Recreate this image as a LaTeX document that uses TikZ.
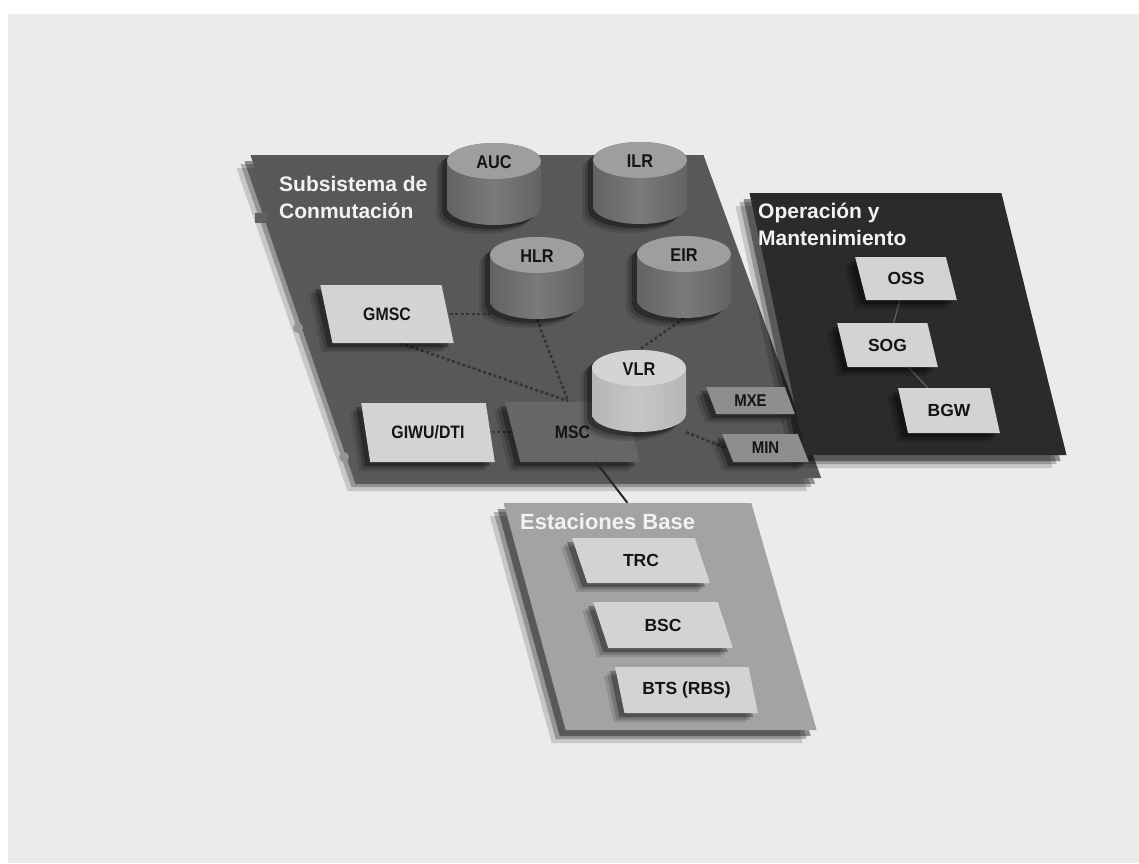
\documentclass[tikz,border=0pt]{standalone}
\usepackage{fontspec}
\setmainfont{Liberation Sans}
\newfontfamily\condf{Liberation Sans}[FakeStretch=0.88]
\usetikzlibrary{shapes.geometric,calc}
\definecolor{bgc}{HTML}{EBEBEB}
\definecolor{platc}{HTML}{585858}
\definecolor{omc}{HTML}{2B2B2B}
\definecolor{basec}{HTML}{A3A3A3}
\definecolor{boxc}{HTML}{D3D3D3}
\definecolor{mscc}{HTML}{666666}
\definecolor{smallc}{HTML}{8E8E8E}
\definecolor{cyltop}{HTML}{9E9E9E}
\definecolor{cylsideA}{HTML}{636363}
\definecolor{cylsideB}{HTML}{7A7A7A}
\definecolor{vlrtop}{HTML}{D4D4D4}
\definecolor{vlrsideA}{HTML}{B6B6B6}
\definecolor{vlrsideB}{HTML}{C6C6C6}
\definecolor{connc}{HTML}{353535}
\definecolor{titlec}{HTML}{F2F2F2}
\definecolor{txtc}{HTML}{141414}
\newcommand\cylfont{\condf\bfseries\fontsize{18.5}{20}\selectfont}
\newcommand\pboxfont{\condf\bfseries\fontsize{18}{20}\selectfont}
\newcommand\smallboxfont{\condf\bfseries\fontsize{17}{20}\selectfont}
\newcommand\boxfont{\bfseries\fontsize{17.5}{20}\selectfont}
\newcommand\titlefont{\bfseries\fontsize{21}{26.5}\selectfont}
\newcommand\omfont{\bfseries\fontsize{21}{27}\selectfont}
\newcommand\dbcyl[6]{%
  \path[shadowed,#6] (#2-47,#3) arc[start angle=180,end angle=360,x radius=47,y radius=18]
     -- (#2+47,#3+46) arc[start angle=0,end angle=180,x radius=47,y radius=18] -- cycle;
  \fill[#5] (#2,#3) ellipse[x radius=47,y radius=18];
  \node[inner sep=0pt, minimum width=94pt, minimum height=82pt] (#1) at (#2,#3+23) {};
  \node[font=\cylfont, text=txtc, inner sep=0pt] (#1-l) at (#2,#3+1) {#4};
}
\tikzset{
  shadowed/.style={
    preaction={fill=black,opacity=0.12,transform canvas={xshift=-11pt,yshift=-9pt}},
    preaction={fill=black,opacity=0.18,transform canvas={xshift=-8pt,yshift=-6.5pt}},
    preaction={fill=black,opacity=0.3,transform canvas={xshift=-5pt,yshift=-4pt}}},
  bigshadow/.style={
    preaction={fill=black,opacity=0.15,transform canvas={xshift=-14pt,yshift=-13pt}},
    preaction={fill=black,opacity=0.25,transform canvas={xshift=-10pt,yshift=-9pt}},
    preaction={fill=black,opacity=0.4,transform canvas={xshift=-6pt,yshift=-6pt}}},
  pbox/.style={trapezium, trapezium left angle=109, trapezium right angle=71,
    trapezium stretches=true, inner sep=2pt, draw=none},
  lightbox/.style={pbox, shadowed, fill=boxc, text=txtc, font=\pboxfont},
  basebox/.style={pbox, shadowed, fill=boxc, text=txtc, font=\boxfont},
  smallbox/.style={pbox, shadowed, fill=smallc, text=txtc, font=\smallboxfont},
  panel/.style={trapezium, trapezium stretches=true, inner sep=3pt, draw=none, bigshadow},
  conn/.style={draw=connc, line width=2.6pt, dash pattern=on 3pt off 2.5pt},
  thinconn/.style={draw=black!62, line width=1.2pt},
  solidconn/.style={draw=black!85, line width=2pt},
  title/.style={anchor=base west, inner sep=0pt, text=titlec},
}
\begin{document}
\begin{tikzpicture}[x=1pt,y=-1pt]
\useasboundingbox (0,0) rectangle (1139,863);
% background
\fill[white] (0,0) rectangle (1139,863);
\fill[bgc] (8,14) rectangle (1139,863);

% panels
\node[panel, fill=basec, trapezium left angle=108.5, trapezium right angle=70.6,
      minimum width=313pt, minimum height=227pt] (base) at (658.5,616.5) {};
\node[panel, fill=platc, trapezium left angle=108, trapezium right angle=71,
      minimum width=571pt, minimum height=323pt] (sub) at (532.5,316.5) {};
\node[panel, fill=omc, trapezium left angle=106, trapezium right angle=71.6,
      minimum width=317pt, minimum height=262pt] (om) at (903.5,324) {};

% small marks on the platform edge
\fill[black!62] (255,213) rectangle (267,223);
\fill[black!42] (298,328) circle (5);
\fill[black!42] (344,457) circle (5);

% titles
\node[title, font=\titlefont] (subt) at (279,191.5)
  {\begin{tabular}[t]{@{}l@{}}Subsistema de\\Conmutación\end{tabular}};
\node[title, font=\omfont] (omt) at (758,218)
  {\begin{tabular}[t]{@{}l@{}}Operación y\\Mantenimiento\end{tabular}};
\node[title, font=\bfseries\fontsize{22}{26}\selectfont, text=black!5] (bst) at (520,529) {Estaciones Base};

% invisible anchors for connectors of the platform (drawn before shapes)
\node[inner sep=0pt, minimum width=94pt, minimum height=82pt] (hlr) at (537,278) {};
\node[inner sep=0pt, minimum width=94pt, minimum height=82pt] (eir) at (684,277) {};
\node[inner sep=0pt, minimum width=94pt, minimum height=82pt] (vlr) at (639,391) {};
\coordinate (gmscE) at (444,314);
\coordinate (gmscS) at (400,343);
\coordinate (mscN) at (568,401);
\coordinate (mscW) at (515,432);
\coordinate (giwuE) at (486,432);
\coordinate (minW) at (726,448);

\draw[conn] (gmscS) -- (mscN);
\draw[conn] (gmscE) -- (hlr.west |- gmscE);
\draw[conn] (hlr.south) -- (mscN);
\draw[conn] (eir.south) -- (vlr.north);
\draw[conn] (vlr.south east) -- (minW);
\draw[conn] (giwuE) -- (mscW);

% cylinders
\dbcyl{auc}{494}{161}{AUC}{cyltop}{left color=cylsideA, right color=cylsideA, middle color=cylsideB}
\dbcyl{ilr}{640}{160}{ILR}{cyltop}{left color=cylsideA, right color=cylsideA, middle color=cylsideB}
\dbcyl{hlrc}{537}{255}{HLR}{cyltop}{left color=cylsideA, right color=cylsideA, middle color=cylsideB}
\dbcyl{eirc}{684}{254}{EIR}{cyltop}{left color=cylsideA, right color=cylsideA, middle color=cylsideB}

% boxes of the switching subsystem
\node[lightbox, minimum width=134pt, minimum height=58pt] (gmsc) at (387,314) {GMSC};
\node[lightbox, minimum width=134pt, minimum height=59pt] (giwu) at (428,432.5) {GIWU/DTI};
\node[pbox, shadowed, fill=mscc, text=txtc, font=\pboxfont,
      minimum width=135pt, minimum height=60pt] (msc) at (572.5,432) {MSC};

% connector to base stations
\coordinate (baseN) at ($(base.top left corner)!0.5!(base.top right corner)$);
\draw[solidconn] (msc.-52) -- (baseN);

\dbcyl{vlrc}{639}{368}{VLR}{vlrtop}{left color=vlrsideA, right color=vlrsideA, middle color=vlrsideB}
\node[smallbox, minimum width=89pt, minimum height=27pt] (mxe) at (750.5,400.5) {MXE};
\node[smallbox, minimum width=87pt, minimum height=28pt] (min) at (765.5,448) {MIN};

% operation and maintenance
\node[pbox, minimum width=102pt, minimum height=43pt] (oss0) at (906,278.5) {};
\node[pbox, minimum width=101pt, minimum height=44pt] (sog0) at (887.5,345) {};
\node[pbox, minimum width=102pt, minimum height=45pt] (bgw0) at (949,410.5) {};
\draw[thinconn] (oss0) -- (sog0);
\draw[thinconn] (sog0) -- (bgw0);
\node[basebox, minimum width=102pt, minimum height=43pt] (oss) at (906,278.5) {OSS};
\node[basebox, minimum width=101pt, minimum height=44pt] (sog) at (887.5,345) {SOG};
\node[basebox, minimum width=102pt, minimum height=45pt] (bgw) at (949,410.5) {BGW};

% base stations
\node[basebox, minimum width=138pt, minimum height=45pt] (trc) at (641,560.5) {TRC};
\node[basebox, minimum width=140pt, minimum height=46pt] (bsc) at (663,625) {BSC};
\node[basebox, minimum width=143pt, minimum height=46pt] (bts) at (686.5,690) {BTS (RBS)};
\end{tikzpicture}
\end{document}
